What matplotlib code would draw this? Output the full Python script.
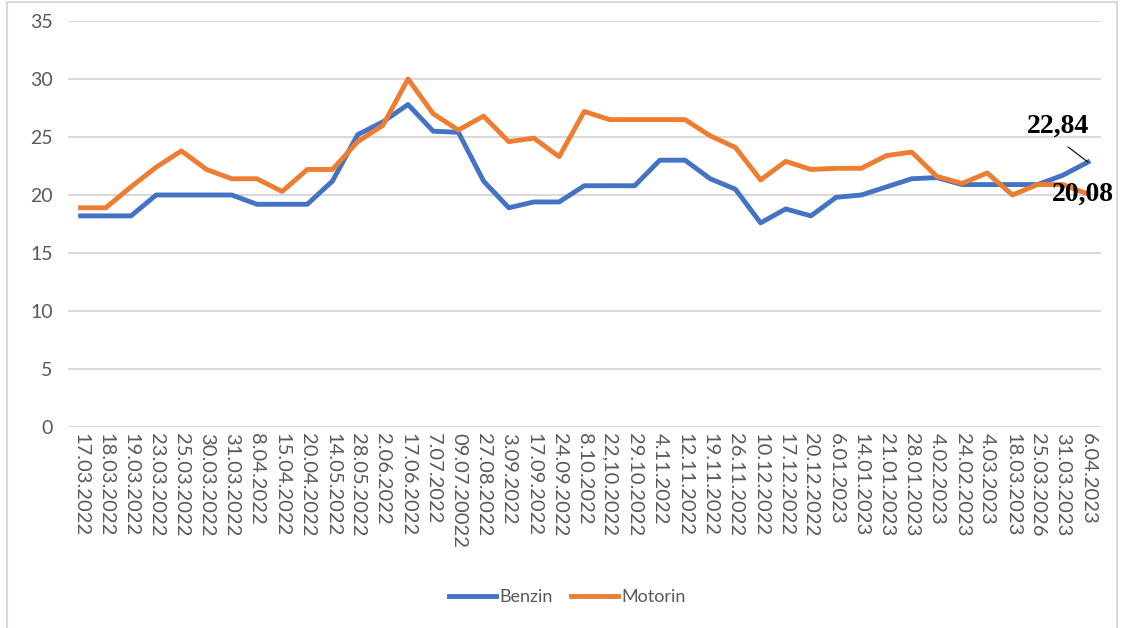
import matplotlib.pyplot as plt
from matplotlib.patches import Rectangle

# tarih etiketleri (orijinal grafikteki gibi, yazım hataları dahil)
tarihler = ["17.03.2022", "18.03.2022", "19.03.2022", "23.03.2022", "25.03.2022",
            "30.03.2022", "31.03.2022", "8.04.2022", "15.04.2022", "20.04.2022",
            "14.05.2022", "28.05.2022", "2.06.2022", "17.06.2022", "7.07.2022",
            "09.07.20022", "27.08.2022", "3.09.2022", "17.09.2022", "24.09.2022",
            "8.10.2022", "22,10.2022", "29.10.2022", "4.11.2022", "12.11.2022",
            "19.11.2022", "26.11.2022", "10.12.2022", "17.12.2022", "20.12.2022",
            "6.01.2023", "14.01.2023", "21.01.2023", "28.01.2023", "4.02.2023",
            "24.02.2023", "4.03.2023", "18.03.2023", "25.03.2026", "31.03.2023",
            "6.04.2023"]

benzin = [18.2, 18.2, 18.2, 20.0, 20.0, 20.0, 20.0, 19.2, 19.2, 19.2,
          21.2, 25.2, 26.3, 27.8, 25.5, 25.4, 21.2, 18.9, 19.4, 19.4,
          20.8, 20.8, 20.8, 23.0, 23.0, 21.4, 20.5, 17.6, 18.8, 18.2,
          19.8, 20.0, 20.7, 21.4, 21.5, 20.9, 20.9, 20.9, 20.9, 21.7,
          22.84]

motorin = [18.9, 18.9, 20.7, 22.4, 23.8, 22.2, 21.4, 21.4, 20.3, 22.2,
           22.2, 24.6, 26.0, 30.0, 27.0, 25.6, 26.8, 24.6, 24.9, 23.3,
           27.2, 26.5, 26.5, 26.5, 26.5, 25.1, 24.1, 21.3, 22.9, 22.2,
           22.3, 22.3, 23.4, 23.7, 21.6, 21.0, 21.9, 20.0, 20.9, 20.9,
           20.08]

y_ticks = [0, 5, 10, 15, 20, 25, 30, 35]

plt.rcParams["font.family"] = ["Lato", "DejaVu Sans"]
gri_yazi = "#595959"

fig = plt.figure(figsize=(11.23, 6.28), dpi=100)
ax = fig.add_axes([0.0606, 0.320, 0.9194, 0.6466])

x = list(range(len(tarihler)))
ax.plot(x, benzin, color="#4472C4", linewidth=3.5, label="Benzin", zorder=3,
        solid_joinstyle="round")
ax.plot(x, motorin, color="#ED7D31", linewidth=3.5, label="Motorin", zorder=3,
        solid_joinstyle="round")

ax.set_xlim(-0.5, len(tarihler) - 0.5)
ax.set_ylim(0, 35)
ax.set_yticks(y_ticks)
ax.set_xticks(x)
ax.set_xticklabels(tarihler, rotation=-90, ha="center", va="top",
                   fontsize=14.5, color=gri_yazi)
ax.tick_params(axis="y", length=0, pad=11, labelsize=14, labelcolor=gri_yazi)
ax.tick_params(axis="x", length=0, pad=4)

ax.grid(axis="y", color="#d9d9d9", linewidth=1.5, zorder=1)
for s in ax.spines.values():
    s.set_visible(False)

# son değer etiketleri
ax.annotate("22,84", xy=(40, 22.84), xytext=(38.8, 25.9),
            ha="center", va="center", fontsize=20, weight="bold",
            family="Liberation Serif", color="black",
            arrowprops=dict(arrowstyle="-", color="black", lw=0.8,
                            relpos=(0.5, 0), shrinkA=6, shrinkB=0),
            annotation_clip=False, zorder=5)
ax.text(39.8, 20.1, "20,08", ha="center", va="center", fontsize=20,
        weight="bold", family="Liberation Serif", color="black",
        clip_on=False, zorder=5)

# lejant
fig.legend(loc="center", bbox_to_anchor=(0.505, 0.049), ncol=2, frameon=False,
           fontsize=13, handlelength=2.6, handletextpad=0.2, columnspacing=1.0,
           labelcolor=gri_yazi)

# dış çerçeve
fig.patches.append(Rectangle((7 / 1123, -0.05), 1110 / 1123, 1.05 - 2 / 628,
                             transform=fig.transFigure, fill=False,
                             edgecolor="#d9d9d9", linewidth=1.5))

fig.savefig("out.png", dpi=100)
